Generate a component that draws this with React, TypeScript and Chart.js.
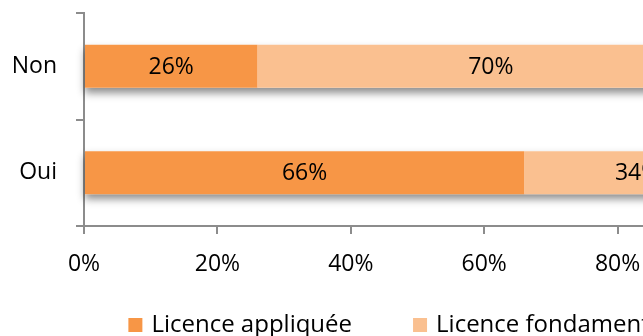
import React, { useEffect, useRef } from "react";
import { Chart, registerables } from "chart.js";

Chart.register(...registerables);

const categories = ["Non", "Oui"];
const seriesNames = ["Licence appliquée", "Licence fondamentale"];
const appliquee = [26, 66];
const fondamentale = [70, 34];
const seriesColors = ["#F79646", "#FAC090"];
const xTickValues = [0, 20, 40, 60, 80, 100];

const FONT = '"Open Sans", "Noto Sans", sans-serif';

const shadowPlugin = {
  id: "barShadow",
  beforeDatasetsDraw(chart: any) {
    const ctx = chart.ctx;
    const metas = chart.getSortedVisibleDatasetMetas();
    ctx.save();
    ctx.shadowColor = "rgba(0,0,0,0.45)";
    ctx.shadowBlur = 8;
    ctx.shadowOffsetY = 5;
    ctx.fillStyle = "#ffffff";
    for (let i = 0; i < categories.length; i++) {
      let left = Infinity;
      let right = -Infinity;
      let top = 0;
      let bottom = 0;
      metas.forEach((m: any) => {
        const el = m.data[i];
        if (!el) return;
        const p = el.getProps(["x", "base", "y", "height"], true);
        left = Math.min(left, p.x, p.base);
        right = Math.max(right, p.x, p.base);
        top = p.y - p.height / 2;
        bottom = p.y + p.height / 2;
      });
      ctx.fillRect(left, top, right - left, bottom - top);
    }
    ctx.restore();
  },
};

const valueLabelPlugin = {
  id: "valueLabels",
  afterDatasetsDraw(chart: any) {
    const ctx = chart.ctx;
    ctx.save();
    ctx.font = `23px ${FONT}`;
    ctx.fillStyle = "#000000";
    ctx.textAlign = "center";
    ctx.textBaseline = "middle";
    chart.getSortedVisibleDatasetMetas().forEach((m: any) => {
      const ds = chart.data.datasets[m.index];
      m.data.forEach((el: any, i: number) => {
        const p = el.getProps(["x", "base", "y"], true);
        ctx.fillText(`${ds.data[i]}%`, (p.x + p.base) / 2, p.y + 1);
      });
    });
    ctx.restore();
  },
};

// Excel-style legend below the axis, built from the datasets
const bottomLegendPlugin = {
  id: "bottomLegend",
  afterDraw(chart: any) {
    const ctx = chart.ctx;
    const box = 14;
    const textGap = 9;
    const itemGap = 61;
    const cy = 325;
    ctx.save();
    ctx.font = `24px ${FONT}`;
    ctx.textAlign = "left";
    ctx.textBaseline = "middle";
    const items = chart.data.datasets.map((ds: any) => ({
      text: ds.label,
      color: ds.backgroundColor,
      w: box + textGap + ctx.measureText(ds.label).width,
    }));
    const total =
      items.reduce((s: number, it: any) => s + it.w, 0) + itemGap * (items.length - 1);
    const center = (chart.chartArea.left + chart.chartArea.right) / 2 - 12;
    let x = center - total / 2;
    items.forEach((it: any) => {
      ctx.fillStyle = it.color;
      ctx.fillRect(x, cy - 7, box, box);
      ctx.fillStyle = "#000000";
      ctx.fillText(it.text, x + box + textGap, cy);
      x += it.w + itemGap;
    });
    ctx.restore();
  },
};

export default function App() {
  const ref = useRef<HTMLCanvasElement | null>(null);

  useEffect(() => {
    if (!ref.current) return;
    const chart = new Chart(ref.current, {
      type: "bar",
      data: {
        labels: categories,
        datasets: [
          {
            label: seriesNames[0],
            data: appliquee,
            backgroundColor: seriesColors[0],
            borderWidth: 0,
            categoryPercentage: 1,
            barPercentage: 0.404,
          },
          {
            label: seriesNames[1],
            data: fondamentale,
            backgroundColor: seriesColors[1],
            borderWidth: 0,
            categoryPercentage: 1,
            barPercentage: 0.404,
          },
        ],
      },
      options: {
        indexAxis: "y",
        responsive: false,
        animation: false,
        devicePixelRatio: 1,
        layout: { padding: { left: 0, right: 70, top: 13, bottom: 0 } },
        font: { family: FONT },
        plugins: {
          legend: { display: false },
          tooltip: { enabled: false },
        },
        scales: {
          x: {
            stacked: true,
            min: 0,
            max: 100,
            afterBuildTicks: (scale: any) => {
              scale.ticks = xTickValues.map((v) => ({ value: v }));
            },
            afterFit: (scale: any) => {
              scale.height = 121;
              scale.paddingLeft = 0;
              scale.paddingRight = 0;
            },
            ticks: {
              color: "#000000",
              padding: 17,
              font: { family: FONT, size: 23 },
              callback: (v: any) => `${v}%`,
            },
            grid: {
              drawOnChartArea: false,
              drawTicks: true,
              tickLength: 8,
              color: "#8C8C8C",
              lineWidth: 2,
            },
            border: { display: true, color: "#8C8C8C", width: 2 },
          },
          y: {
            stacked: true,
            afterFit: (scale: any) => {
              scale.width = 84;
              scale.paddingTop = 0;
              scale.paddingBottom = 0;
            },
            ticks: {
              color: "#000000",
              padding: 19,
              font: { family: FONT, size: 23 },
            },
            grid: {
              drawOnChartArea: false,
              drawTicks: true,
              tickLength: 8,
              color: "#8C8C8C",
              lineWidth: 2,
            },
            border: { display: true, color: "#8C8C8C", width: 2 },
          },
        },
      },
      plugins: [shadowPlugin, valueLabelPlugin, bottomLegendPlugin],
    } as any);
    return () => chart.destroy();
  }, []);

  return (
    <div
      style={{
        position: "fixed",
        left: 0,
        top: 0,
        width: 643,
        height: 336,
        overflow: "hidden",
        background: "#ffffff",
      }}
    >
      <canvas
        ref={ref}
        width={821}
        height={347}
        style={{ position: "absolute", left: 0, top: 0, width: 821, height: 347 }}
      />
    </div>
  );
}
